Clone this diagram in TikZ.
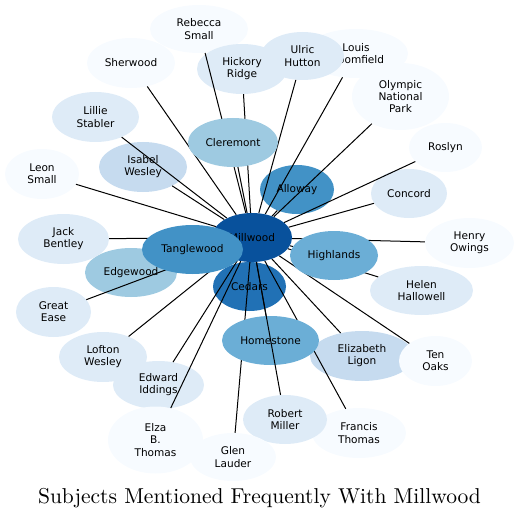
\documentclass[tikz,border=0pt]{standalone}
\usepackage{fontspec}
\newfontfamily\labelfont{DejaVu Sans}
\newfontfamily\titlefont{lmroman10-regular.otf}
\usetikzlibrary{shapes.geometric}
\pgfdeclarelayer{back}
\pgfdeclarelayer{front}
\pgfdeclarelayer{top}
\pgfsetlayers{back,main,front,top}
\definecolor{bA}{HTML}{F7FBFF}
\definecolor{bB}{HTML}{DEEBF7}
\definecolor{bC}{HTML}{C6DBEF}
\definecolor{bD}{HTML}{9ECAE1}
\definecolor{bE}{HTML}{6BAED6}
\definecolor{bF}{HTML}{4292C6}
\definecolor{bG}{HTML}{2171B5}
\definecolor{bH}{HTML}{08519C}
\tikzset{
  bub/.style={ellipse, draw=none, inner sep=0pt, align=center,
    font=\labelfont\fontsize{10.6}{12.2}\selectfont, text=black},
  link/.style={draw=black, line width=1bp},
}
\begin{document}
\begin{tikzpicture}[x=1bp, y=-1bp]
\useasboundingbox (0,0) rectangle (519,519);
\begin{pgfonlayer}{back}
\node[bub, fill=bA, minimum width=98bp, minimum height=48bp] (rebecca) at (199,29) {Rebecca\\Small};
\node[bub, fill=bA, minimum width=88bp, minimum height=50bp] (sherwood) at (131,63) {Sherwood};
\node[bub, fill=bA, minimum width=104bp, minimum height=49bp] (louis) at (356,53.5) {Louis\\Bloomfield};
\node[bub, fill=bB, minimum width=90bp, minimum height=50bp] (hickory) at (242,69) {Hickory\\Ridge};
\node[bub, fill=bB, minimum width=83bp, minimum height=48bp] (ulric) at (302.5,56) {Ulric\\Hutton};
\node[bub, fill=bA, minimum width=97bp, minimum height=67bp] (olympic) at (400.5,96.5) {Olympic\\National\\Park};
\node[bub, fill=bA, minimum width=73bp, minimum height=49bp] (roslyn) at (445.5,147.5) {Roslyn};
\node[bub, fill=bB, minimum width=76bp, minimum height=49bp] (concord) at (409,193.5) {Concord};
\node[bub, fill=bA, minimum width=89bp, minimum height=50bp] (henry) at (469.5,243) {Henry\\Owings};
\node[bub, fill=bB, minimum width=103bp, minimum height=49bp] (helen) at (421.5,290.5) {Helen\\Hallowell};
\node[bub, fill=bC, minimum width=104bp, minimum height=50bp] (elizabeth) at (362,356) {Elizabeth\\Ligon};
\node[bub, fill=bA, minimum width=73bp, minimum height=50bp] (tenoaks) at (435.5,361) {Ten\\Oaks};
\node[bub, fill=bA, minimum width=94bp, minimum height=50bp] (francis) at (359,433) {Francis\\Thomas};
\node[bub, fill=bB, minimum width=84bp, minimum height=49bp] (robert) at (285,419.5) {Robert\\Miller};
\node[bub, fill=bB, minimum width=88bp, minimum height=50bp] (lofton) at (103,357) {Lofton\\Wesley};
\node[bub, fill=bB, minimum width=91bp, minimum height=48bp] (edward) at (158.5,385) {Edward\\Iddings};
\node[bub, fill=bA, minimum width=95bp, minimum height=67bp] (elza) at (155.5,440) {Elza\\B.\\Thomas};
\node[bub, fill=bA, minimum width=86bp, minimum height=48bp] (glen) at (233,457) {Glen\\Lauder};
\node[bub, fill=bD, minimum width=92bp, minimum height=49bp] (edgewood) at (131,272.5) {Edgewood};
\node[bub, fill=bB, minimum width=75bp, minimum height=50bp] (great) at (53.5,312) {Great\\Ease};
\node[bub, fill=bB, minimum width=91bp, minimum height=50bp] (jack) at (63.5,239) {Jack\\Bentley};
\node[bub, fill=bA, minimum width=74bp, minimum height=50bp] (leon) at (42,174) {Leon\\Small};
\node[bub, fill=bB, minimum width=87bp, minimum height=50bp] (lillie) at (95.5,117) {Lillie\\Stabler};
\node[bub, fill=bC, minimum width=88bp, minimum height=50bp] (isabel) at (143,167) {Isabel\\Wesley};
\node[bub, fill=bF, minimum width=74bp, minimum height=49bp] (alloway) at (297,189.5) {Alloway};
\node[bub, fill=bG, minimum width=73bp, minimum height=49bp] (cedars) at (249.5,286.5) {Cedars};
\end{pgfonlayer}
\begin{pgfonlayer}{front}
\node[bub, fill=bH, minimum width=80bp, minimum height=49bp] (millwood) at (252,237.5) {Millwood};
\node[bub, fill=bF, minimum width=101bp, minimum height=49bp] (tanglewood) at (192.5,249.5) {Tanglewood};
\node[bub, fill=bD, minimum width=90bp, minimum height=49bp] (cleremont) at (233,142.5) {Cleremont};
\node[bub, fill=bE, minimum width=88bp, minimum height=49bp] (highlands) at (334,255.5) {Highlands};
\node[bub, fill=bE, minimum width=97bp, minimum height=49bp] (homestone) at (270.5,340.5) {Homestone};
\end{pgfonlayer}
\foreach \n in {rebecca,sherwood,louis,hickory,ulric,olympic,roslyn,concord,henry,helen,
  elizabeth,tenoaks,francis,lofton,edward,elza,glen,edgewood,great,jack,leon,lillie,
  isabel,alloway,cedars,tanglewood,cleremont,highlands,homestone}
  \draw[link] (millwood) -- (\n);
\begin{pgfonlayer}{top}
\draw[link] (millwood) -- (robert);
\end{pgfonlayer}
\node[font=\titlefont\fontsize{21.6}{26}\selectfont, anchor=base] (title) at (259.5,503.5) {Subjects Mentioned Frequently With Millwood};
\end{tikzpicture}
\end{document}
